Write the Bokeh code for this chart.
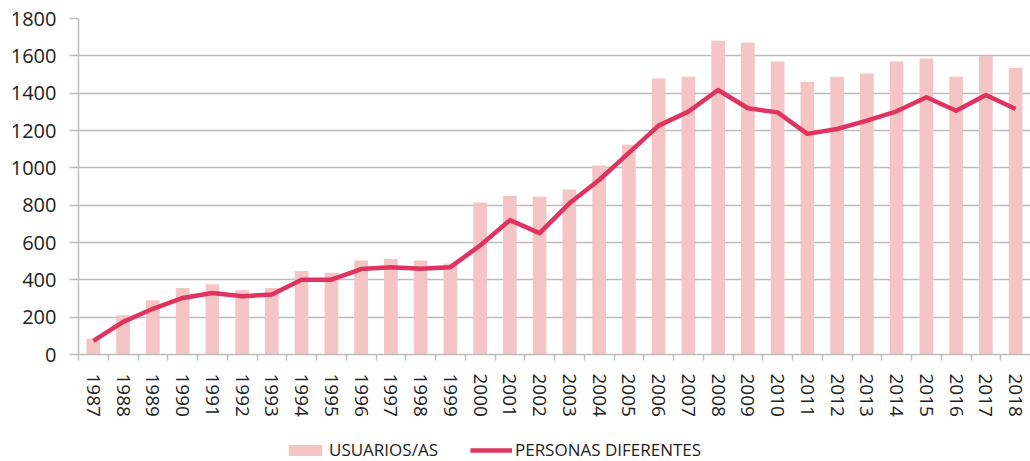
from bokeh.plotting import figure
from bokeh.layouts import column
from bokeh.models import Range1d, FixedTicker, Legend, LegendItem
from bokeh.embed import file_html
from bokeh.resources import INLINE

years = [str(y) for y in range(1987, 2019)]
usuarios = [85, 210, 290, 356, 376, 344, 356, 447, 438, 503, 511, 503, 487, 814, 850, 845,
            884, 1012, 1123, 1479, 1488, 1681, 1670, 1570, 1461, 1488, 1506, 1570, 1586, 1488, 1599, 1535]
personas = [73, 175, 245, 303, 329, 312, 322, 401, 401, 458, 468, 460, 468, 584, 720, 650,
            810, 935, 1080, 1226, 1301, 1417, 1319, 1297, 1182, 1208, 1253, 1303, 1378, 1306, 1390, 1315]
y_ticks = [0, 200, 400, 600, 800, 1000, 1200, 1400, 1600, 1800]

n = len(years)
centers = [i + 0.5 for i in range(n)]
bounds = [i for i in range(n + 1)]

FONT = "Open Sans"
BAR = "#F4C5C4"
LINE = "#E0335F"
GRID = "#BDBDBD"
TEXT = "#222222"

p = figure(width=1030, height=419, output_backend="svg", toolbar_location=None,
           x_range=Range1d(0, n), y_range=Range1d(0, 1800),
           min_border_left=78, min_border_right=0, min_border_top=18, min_border_bottom=65)
p.outline_line_color = None
p.background_fill_color = "white"

bars = p.vbar(x=centers, top=usuarios, width=0.46, fill_color=BAR, line_color=None)
line = p.line(x=centers, y=personas, line_color=LINE, line_width=4.5, line_join="round")

# x axis
xa = p.xaxis[0]
xa.ticker = FixedTicker(ticks=centers, minor_ticks=bounds)
xa.major_label_overrides = {c: y for c, y in zip(centers, years)}
xa.major_label_orientation = "vertical"
xa.major_tick_out = 0
xa.major_tick_in = 0
xa.minor_tick_out = 6
xa.minor_tick_in = 0
xa.minor_tick_line_color = GRID
xa.minor_tick_line_width = 1.5
xa.axis_line_color = GRID
xa.axis_line_width = 1.5
xa.major_label_text_font = FONT
xa.major_label_text_font_size = "19px"
xa.major_label_text_color = TEXT
xa.major_label_standoff = 13

# y axis
ya = p.yaxis[0]
ya.ticker = FixedTicker(ticks=y_ticks)
ya.major_tick_out = 9
ya.major_tick_in = 0
ya.minor_tick_out = 0
ya.minor_tick_in = 0
ya.major_tick_line_color = GRID
ya.major_tick_line_width = 1.5
ya.axis_line_color = GRID
ya.axis_line_width = 1.5
ya.major_label_text_font = FONT
ya.major_label_text_font_size = "20px"
ya.major_label_text_color = TEXT
ya.major_label_standoff = 13

p.xgrid.grid_line_color = None
p.ygrid.grid_line_color = GRID
p.ygrid.grid_line_width = 1.5
p.ygrid.ticker = FixedTicker(ticks=y_ticks)

# legend strip: same series and styles, view range kept away from the data
q = figure(width=1030, height=42, output_backend="svg", toolbar_location=None,
           x_range=Range1d(-200, -199), y_range=Range1d(0, 1),
           min_border_left=0, min_border_right=0, min_border_top=0, min_border_bottom=0)
q.axis.visible = False
q.grid.visible = False
q.outline_line_color = None
bars_proxy = q.vbar(x=centers, top=usuarios, width=0.46, fill_color=BAR, line_color=None)
line_proxy = q.line(x=centers, y=personas, line_color=LINE, line_width=4.5)

legend = Legend(items=[LegendItem(label="USUARIOS/AS", renderers=[bars_proxy]),
                       LegendItem(label="PERSONAS DIFERENTES", renderers=[line_proxy])],
                orientation="horizontal", location=(206, 0),
                glyph_width=42, glyph_height=14, label_standoff=3, spacing=32,
                padding=0, margin=0, border_line_color=None, background_fill_alpha=0,
                label_text_font=FONT, label_text_font_size="17px", label_text_color=TEXT,
                label_height=14)
q.add_layout(legend, "center")

open("out.html", "w").write(file_html(column(p, q, spacing=0), INLINE))
